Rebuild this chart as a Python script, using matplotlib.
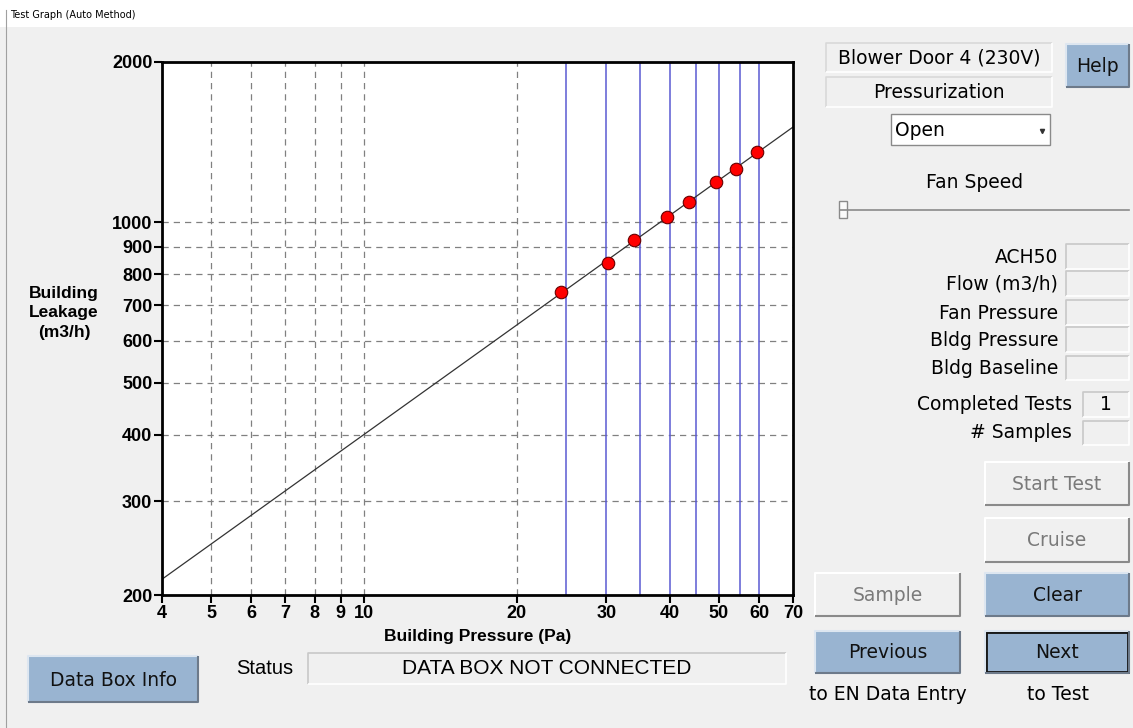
import matplotlib
matplotlib.use('Agg')
import matplotlib.pyplot as plt
import numpy as np
from matplotlib.patches import Rectangle

# Datos de la prueba (presion del edificio vs fuga)
presion = [24.4, 30.2, 34.0, 39.5, 43.7, 49.4, 54.0, 59.4]
fuga = [741, 839, 927, 1024, 1093, 1191, 1260, 1356]

x_ticks = [4, 5, 6, 7, 8, 9, 10, 20, 30, 40, 50, 60, 70]
y_ticks = [200, 300, 400, 500, 600, 700, 800, 900, 1000, 2000]
grid_x = [5, 6, 7, 8, 9, 10, 20]
grid_y = [300, 400, 500, 600, 700, 800, 900, 1000]
objetivo_x = [25, 30, 35, 40, 45, 50, 55, 60]

W, H = 1133, 728
BG = '#f0f0f0'
AZUL = '#99b4d1'

fig = plt.figure(figsize=(W / 100, H / 100), dpi=100, facecolor=BG)

# capa de la interfaz en pixeles
ui = fig.add_axes([0, 0, 1, 1], zorder=0)
ui.set_xlim(0, W)
ui.set_ylim(H, 0)
ui.axis('off')


def caja(x0, y0, x1, y1, cara=BG, claro='#ffffff', oscuro='#a0a0a0', lw=1.2):
    ui.add_patch(Rectangle((x0, y0), x1 - x0, y1 - y0, facecolor=cara, edgecolor='none'))
    ui.plot([x0, x0, x1], [y1, y0, y0], color=claro, lw=lw, solid_capstyle='butt')
    ui.plot([x0, x1, x1], [y1, y1, y0], color=oscuro, lw=lw, solid_capstyle='butt')


def boton(x0, y0, x1, y1, texto, activo=True, borde=False):
    if activo:
        caja(x0, y0, x1, y1, cara=AZUL, claro='#dde6f0', oscuro='#6d7a8a', lw=1.5)
        col = '#111111'
    else:
        caja(x0, y0, x1, y1, cara=BG, claro='#ffffff', oscuro='#8a8a8a', lw=1.5)
        col = '#7a7a7a'
    if borde:
        ui.add_patch(Rectangle((x0 + 1, y0 + 1), x1 - x0 - 2, y1 - y0 - 2, facecolor='none',
                               edgecolor='#111111', lw=2))
    ui.text((x0 + x1) / 2, (y0 + y1) / 2 + 1, texto, ha='center', va='center',
            fontsize=13.5, color=col, family='DejaVu Sans')


# franja del titulo
ui.add_patch(Rectangle((0, 0), W, 27, facecolor='white', edgecolor='none'))
ui.text(10, 15, 'Test Graph (Auto Method)', fontsize=7, va='center', family='DejaVu Sans')
ui.plot([6, 6], [10, H], color='#a0a0a0', lw=0.8)

# panel derecho
caja(826, 43, 1052, 72, claro='#d8d8d8', oscuro='#ffffff')
ui.text(939, 58, 'Blower Door 4 (230V)', ha='center', va='center', fontsize=13.5, family='DejaVu Sans')
caja(826, 77, 1052, 107, claro='#d8d8d8', oscuro='#ffffff')
ui.text(939, 92, 'Pressurization', ha='center', va='center', fontsize=13.5, family='DejaVu Sans')
boton(1066, 44, 1129, 87, 'Help')

ui.add_patch(Rectangle((891, 114), 159, 31, facecolor='white', edgecolor='#8a8a8a', lw=1))
ui.text(895, 130, 'Open', va='center', fontsize=13.5, family='DejaVu Sans')
ui.plot([1042], [131], marker='v', color='#333333', markersize=3)

ui.text(975, 183, 'Fan Speed', ha='center', va='center', fontsize=13.5, family='DejaVu Sans')
ui.plot([840, 1129], [210, 210], color='#8a8a8a', lw=1.2)
ui.add_patch(Rectangle((839, 201), 8, 17, facecolor='#fafafa', edgecolor='#8a8a8a', lw=1))

etiquetas = ['ACH50', 'Flow (m3/h)', 'Fan Pressure', 'Bldg Pressure', 'Bldg Baseline']
filas = [(244, 269), (271, 296), (300, 325), (327, 352), (356, 380)]
for txt, (a, b) in zip(etiquetas, filas):
    ui.text(1058, (a + b) / 2 + 1, txt, ha='right', va='center', fontsize=13.5, family='DejaVu Sans')
    caja(1066, a, 1129, b, claro='#c8c8c8', oscuro='#ffffff')

ui.text(1072, 405, 'Completed Tests', ha='right', va='center', fontsize=13.5, family='DejaVu Sans')
caja(1083, 392, 1129, 417, claro='#c8c8c8', oscuro='#ffffff')
ui.text(1106, 405, '1', ha='center', va='center', fontsize=13.5, family='DejaVu Sans')
ui.text(1072, 433, '# Samples', ha='right', va='center', fontsize=13.5, family='DejaVu Sans')
caja(1083, 421, 1129, 445, claro='#c8c8c8', oscuro='#ffffff')

boton(985, 462, 1129, 505, 'Start Test', activo=False)
boton(985, 518, 1129, 562, 'Cruise', activo=False)
boton(815, 573, 960, 616, 'Sample', activo=False)
boton(985, 573, 1129, 616, 'Clear')
boton(815, 631, 960, 673, 'Previous')
boton(985, 631, 1129, 673, 'Next', borde=True)
ui.text(888, 694, 'to EN Data Entry', ha='center', va='center', fontsize=13.5, family='DejaVu Sans')
ui.text(1058, 694, 'to Test', ha='center', va='center', fontsize=13.5, family='DejaVu Sans')

# parte inferior izquierda
boton(28, 656, 198, 702, 'Data Box Info')
ui.text(265, 668, 'Status', ha='center', va='center', fontsize=14.5, family='Liberation Sans')
caja(308, 653, 786, 684, claro='#c8c8c8', oscuro='#ffffff')
ui.text(547, 669, 'DATA BOX NOT CONNECTED', ha='center', va='center', fontsize=15,
        family='Liberation Sans')

# grafico log-log
ax = fig.add_axes([162 / W, (H - 595) / H, (793 - 162) / W, (595 - 62) / H], zorder=1)
ax.set_facecolor('white')
ax.set_xscale('log')
ax.set_yscale('log')
ax.set_xlim(4, 70)
ax.set_ylim(200, 2000)

for gx in grid_x:
    ax.axvline(gx, color='#808080', lw=0.9, ls=(0, (5, 4)), zorder=1)
for gy in grid_y:
    ax.axhline(gy, color='#808080', lw=0.9, ls=(0, (5, 4)), zorder=1)
for ox in objetivo_x:
    ax.axvline(ox, color='#5a5ad2', lw=1.1, zorder=1)

# ajuste de la ley de potencia
n, logc = np.polyfit(np.log10(presion), np.log10(fuga), 1)
xs = np.geomspace(4, 70, 100)
ax.plot(xs, 10 ** logc * xs ** n, color='#333333', lw=0.9, zorder=2)
ax.plot(presion, fuga, 'o', color='#ff0000', markersize=9, markeredgecolor='#660000',
        markeredgewidth=0.8, zorder=3)

ax.xaxis.set_minor_locator(matplotlib.ticker.NullLocator())
ax.yaxis.set_minor_locator(matplotlib.ticker.NullLocator())
ax.set_xticks(x_ticks)
ax.set_xticklabels([str(v) for v in x_ticks])
ax.set_yticks(y_ticks)
ax.set_yticklabels([str(v) for v in y_ticks])
ax.tick_params(direction='out', length=6, width=1.5, pad=1, labelsize=13)
for lab in ax.get_xticklabels() + ax.get_yticklabels():
    lab.set_fontweight('bold')
    lab.set_family('Liberation Sans')
for s in ax.spines.values():
    s.set_linewidth(2)

ax.set_xlabel('Building Pressure (Pa)', fontsize=12.5, fontweight='bold',
              family='Liberation Sans', labelpad=5)
fig.text(64 / W, 1 - 313 / H, 'Building\nLeakage\n(m3/h)', ha='center', va='center',
         fontsize=12.5, fontweight='bold', family='Liberation Sans', linespacing=1.4)

fig.savefig('out.png', dpi=100, facecolor=BG)
